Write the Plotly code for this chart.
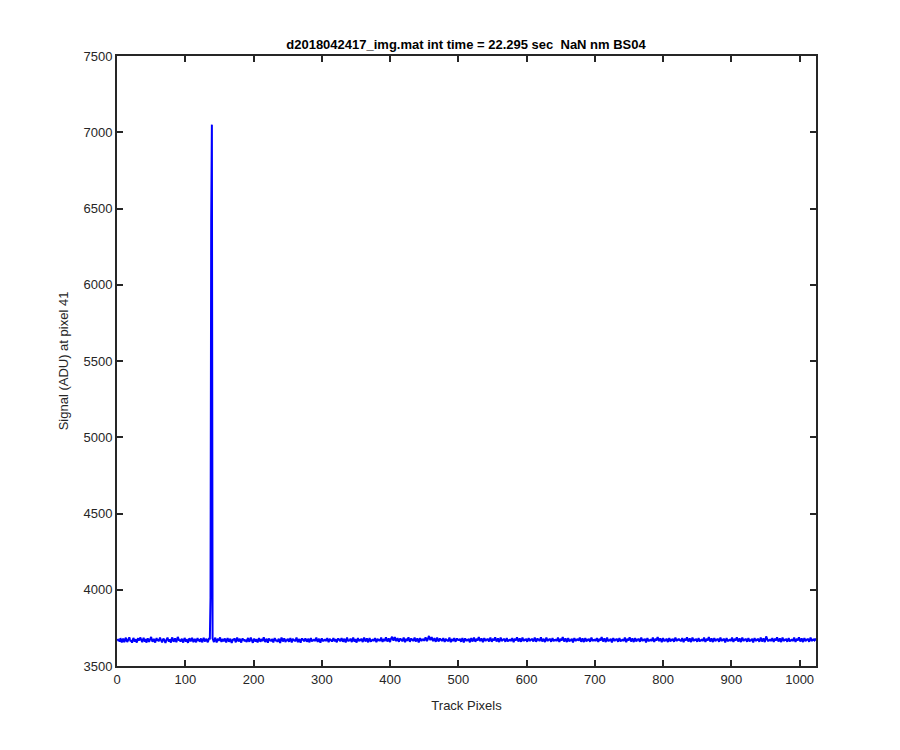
import plotly.graph_objects as go

title_text = "d2018042417_img.mat int time = 22.295 sec  NaN nm BS04"
x_label = "Track Pixels"
y_label = "Signal (ADU) at pixel 41"
x_ticks = [0, 100, 200, 300, 400, 500, 600, 700, 800, 900, 1000]
y_ticks = [3500, 4000, 4500, 5000, 5500, 6000, 6500, 7000, 7500]

signal = [
    3678, 3664, 3671, 3659, 3683, 3672, 3655, 3668, 3680, 3662, 3657, 3675, 3686, 3669, 3658, 3666, 3679, 3688, 3674, 3661, 3670, 3652, 3667, 3684, 3673, 3660, 3676, 3665, 3654, 3671, 3682, 3668,
    3673, 3687, 3676, 3663, 3656, 3672, 3685, 3669, 3660, 3677, 3653, 3666, 3681, 3671, 3658, 3670, 3683, 3690, 3672, 3659, 3668, 3678, 3664, 3654, 3670, 3684, 3667, 3675, 3661, 3672, 3686, 3674,
    3665, 3655, 3670, 3680, 3672, 3658, 3651, 3668, 3679, 3686, 3670, 3661, 3675, 3664, 3653, 3676, 3687, 3672, 3659, 3670, 3682, 3666, 3656, 3673, 3691, 3679, 3667, 3674, 3660, 3670, 3678, 3664,
    3654, 3670, 3684, 3672, 3659, 3676, 3666, 3652, 3668, 3681, 3674, 3661, 3672, 3685, 3670, 3657, 3666, 3679, 3664, 3655, 3672, 3683, 3667, 3676, 3659, 3670, 3681, 3665, 3656, 3674, 3685, 3669,
    3661, 3672, 3679, 3665, 3656, 3670, 3683, 3674, 3950, 6420, 7050, 3681, 3665, 3657, 3672, 3686, 3668, 3654, 3670, 3679, 3664, 3674, 3687, 3670, 3659, 3668, 3677, 3662, 3672, 3681, 3665, 3655,
    3670, 3683, 3672, 3659, 3668, 3679, 3665, 3651, 3663, 3676, 3670, 3681, 3667, 3655, 3672, 3686, 3674, 3661, 3670, 3679, 3664, 3654, 3670, 3681, 3668, 3676, 3661, 3672, 3666, 3657, 3675, 3684,
    3667, 3659, 3672, 3687, 3675, 3663, 3652, 3668, 3679, 3670, 3661, 3676, 3665, 3655, 3670, 3683, 3672, 3659, 3668, 3677, 3663, 3674, 3688, 3672, 3657, 3666, 3679, 3668, 3653, 3670, 3681, 3665,
    3672, 3661, 3677, 3668, 3655, 3670, 3683, 3674, 3663, 3672, 3658, 3668, 3679, 3665, 3651, 3670, 3686, 3677, 3661, 3670, 3681, 3668, 3657, 3674, 3666, 3679, 3670, 3659, 3672, 3683, 3668, 3655,
    3670, 3679, 3665, 3674, 3661, 3672, 3686, 3670, 3657, 3668, 3677, 3663, 3653, 3672, 3681, 3668, 3676, 3661, 3670, 3681, 3672, 3659, 3666, 3679, 3668, 3655, 3672, 3683, 3670, 3661, 3674, 3666,
    3677, 3663, 3672, 3686, 3670, 3659, 3668, 3679, 3665, 3653, 3670, 3681, 3672, 3661, 3674, 3666, 3677, 3663, 3672, 3683, 3668, 3657, 3670, 3679, 3666, 3674, 3659, 3672, 3683, 3670, 3663, 3677,
    3666, 3655, 3672, 3681, 3668, 3677, 3661, 3670, 3683, 3672, 3659, 3668, 3679, 3665, 3655, 3670, 3687, 3674, 3661, 3672, 3666, 3679, 3668, 3657, 3674, 3686, 3670, 3661, 3677, 3668, 3654, 3672,
    3683, 3670, 3663, 3674, 3666, 3679, 3668, 3657, 3672, 3686, 3674, 3661, 3670, 3681, 3668, 3655, 3672, 3683, 3670, 3659, 3674, 3666, 3677, 3663, 3672, 3683, 3670, 3657, 3668, 3679, 3665, 3674,
    3663, 3672, 3686, 3670, 3659, 3668, 3677, 3663, 3674, 3688, 3672, 3661, 3670, 3681, 3668, 3657, 3674, 3686, 3692, 3677, 3666, 3679, 3690, 3672, 3663, 3674, 3683, 3670, 3659, 3672, 3681, 3668,
    3677, 3661, 3672, 3686, 3670, 3657, 3668, 3679, 3665, 3674, 3688, 3672, 3659, 3670, 3681, 3668, 3677, 3663, 3674, 3686, 3670, 3661, 3672, 3681, 3668, 3654, 3670, 3683, 3674, 3663, 3677, 3668,
    3679, 3665, 3674, 3688, 3677, 3663, 3672, 3692, 3697, 3683, 3670, 3679, 3690, 3674, 3663, 3672, 3683, 3670, 3659, 3674, 3686, 3672, 3661, 3670, 3681, 3668, 3677, 3663, 3672, 3683, 3670, 3659,
    3668, 3679, 3665, 3674, 3661, 3672, 3686, 3670, 3657, 3668, 3677, 3663, 3674, 3683, 3670, 3659, 3672, 3681, 3668, 3677, 3666, 3679, 3670, 3659, 3672, 3683, 3668, 3654, 3670, 3681, 3672, 3663,
    3674, 3666, 3679, 3668, 3655, 3672, 3683, 3670, 3661, 3674, 3686, 3672, 3659, 3670, 3679, 3666, 3677, 3690, 3674, 3663, 3672, 3681, 3668, 3657, 3670, 3683, 3674, 3663, 3677, 3668, 3679, 3670,
    3661, 3674, 3686, 3672, 3659, 3668, 3679, 3666, 3674, 3688, 3672, 3661, 3670, 3681, 3668, 3657, 3672, 3686, 3674, 3663, 3677, 3668, 3679, 3670, 3659, 3672, 3683, 3670, 3661, 3674, 3666, 3677,
    3663, 3672, 3683, 3670, 3657, 3668, 3679, 3666, 3677, 3688, 3674, 3661, 3670, 3681, 3670, 3659, 3674, 3686, 3672, 3663, 3677, 3666, 3679, 3670, 3659, 3672, 3683, 3674, 3663, 3677, 3668, 3679,
    3670, 3661, 3674, 3686, 3672, 3659, 3670, 3681, 3668, 3677, 3663, 3674, 3688, 3672, 3661, 3670, 3679, 3666, 3657, 3672, 3686, 3674, 3663, 3677, 3668, 3679, 3670, 3659, 3672, 3683, 3670, 3663,
    3674, 3666, 3677, 3663, 3672, 3686, 3670, 3659, 3668, 3679, 3666, 3677, 3690, 3674, 3661, 3670, 3681, 3668, 3657, 3672, 3683, 3670, 3661, 3674, 3666, 3679, 3668, 3655, 3670, 3683, 3672, 3663,
    3677, 3668, 3679, 3666, 3674, 3686, 3672, 3659, 3670, 3681, 3668, 3657, 3672, 3683, 3670, 3661, 3677, 3666, 3679, 3670, 3659, 3672, 3686, 3674, 3663, 3674, 3666, 3677, 3663, 3672, 3683, 3670,
    3659, 3668, 3679, 3666, 3677, 3690, 3674, 3661, 3670, 3681, 3668, 3657, 3672, 3686, 3672, 3661, 3674, 3666, 3679, 3668, 3655, 3670, 3683, 3672, 3663, 3677, 3668, 3679, 3670, 3659, 3672, 3683,
    3670, 3661, 3674, 3666, 3677, 3663, 3672, 3686, 3670, 3657, 3668, 3679, 3666, 3677, 3688, 3674, 3661, 3670, 3681, 3668, 3657, 3672, 3683, 3670, 3661, 3677, 3668, 3679, 3670, 3659, 3674, 3686,
    3672, 3663, 3677, 3666, 3679, 3668, 3655, 3670, 3683, 3672, 3661, 3674, 3666, 3677, 3663, 3672, 3686, 3670, 3659, 3668, 3679, 3666, 3674, 3690, 3677, 3663, 3672, 3681, 3668, 3657, 3670, 3683,
    3672, 3661, 3674, 3666, 3679, 3668, 3657, 3672, 3683, 3670, 3661, 3677, 3666, 3679, 3670, 3659, 3672, 3686, 3674, 3663, 3677, 3668, 3679, 3666, 3674, 3661, 3672, 3683, 3670, 3657, 3668, 3679,
    3666, 3677, 3688, 3672, 3661, 3670, 3681, 3668, 3657, 3672, 3686, 3674, 3663, 3677, 3666, 3679, 3670, 3659, 3672, 3683, 3670, 3661, 3674, 3666, 3677, 3663, 3672, 3686, 3670, 3659, 3668, 3679,
    3666, 3677, 3690, 3674, 3661, 3670, 3681, 3668, 3657, 3672, 3683, 3670, 3663, 3677, 3668, 3679, 3670, 3659, 3674, 3686, 3672, 3663, 3677, 3666, 3679, 3668, 3655, 3670, 3683, 3672, 3661, 3674,
    3666, 3677, 3663, 3672, 3686, 3670, 3659, 3668, 3679, 3666, 3677, 3688, 3674, 3661, 3670, 3681, 3668, 3657, 3672, 3686, 3674, 3663, 3677, 3668, 3679, 3670, 3659, 3672, 3683, 3670, 3661, 3674,
    3666, 3679, 3668, 3655, 3670, 3683, 3672, 3663, 3677, 3666, 3679, 3670, 3659, 3672, 3686, 3674, 3661, 3670, 3681, 3668, 3657, 3672, 3694, 3683, 3670, 3661, 3674, 3666, 3677, 3663, 3672, 3683,
    3670, 3659, 3668, 3679, 3666, 3677, 3688, 3672, 3661, 3670, 3681, 3668, 3657, 3674, 3686, 3672, 3663, 3677, 3666, 3679, 3670, 3659, 3672, 3683, 3670, 3661, 3674, 3666, 3677, 3663, 3672, 3686,
    3670, 3659, 3668, 3679, 3666, 3674, 3688, 3674, 3661, 3670, 3681, 3668, 3657, 3672, 3683, 3670, 3663, 3677, 3668, 3679, 3670, 3659, 3672, 3686, 3674, 3663, 3677, 3666, 3679, 3668, 3672, 3681,
]
pixels = list(range(1, len(signal) + 1))

axis_color = "#262626"
font_family = "Liberation Sans, Arial, sans-serif"

fig = go.Figure()
fig.add_trace(go.Scatter(
    x=pixels, y=signal, mode="lines",
    line=dict(color="#0000ff", width=2),
    hoverinfo="skip", showlegend=False,
))

axis_common = dict(
    showline=True, mirror="ticks", linecolor=axis_color, linewidth=2,
    ticks="inside", ticklen=6, tickwidth=2, tickcolor=axis_color,
    showgrid=False, zeroline=False,
    tickfont=dict(family=font_family, size=13, color=axis_color),
)

fig.update_layout(
    width=900, height=750,
    paper_bgcolor="white", plot_bgcolor="white",
    margin=dict(l=109, r=92, t=48, b=92),
    title=dict(text="<b>" + title_text + "</b>", x=(466 - 8) / 900, xanchor="center",
               y=1 - 36 / 750, yanchor="middle",
               font=dict(family=font_family, size=13, color="#000000")),
    xaxis=dict(range=[0, 1024], tickvals=x_ticks,
               title=dict(text=x_label, standoff=15,
                          font=dict(family=font_family, size=13, color=axis_color)),
               **axis_common),
    yaxis=dict(range=[3500, 7500], tickvals=y_ticks,
               title=dict(text=y_label, standoff=12,
                          font=dict(family=font_family, size=13, color=axis_color)),
               **axis_common),
)

fig.write_html("out.html")
